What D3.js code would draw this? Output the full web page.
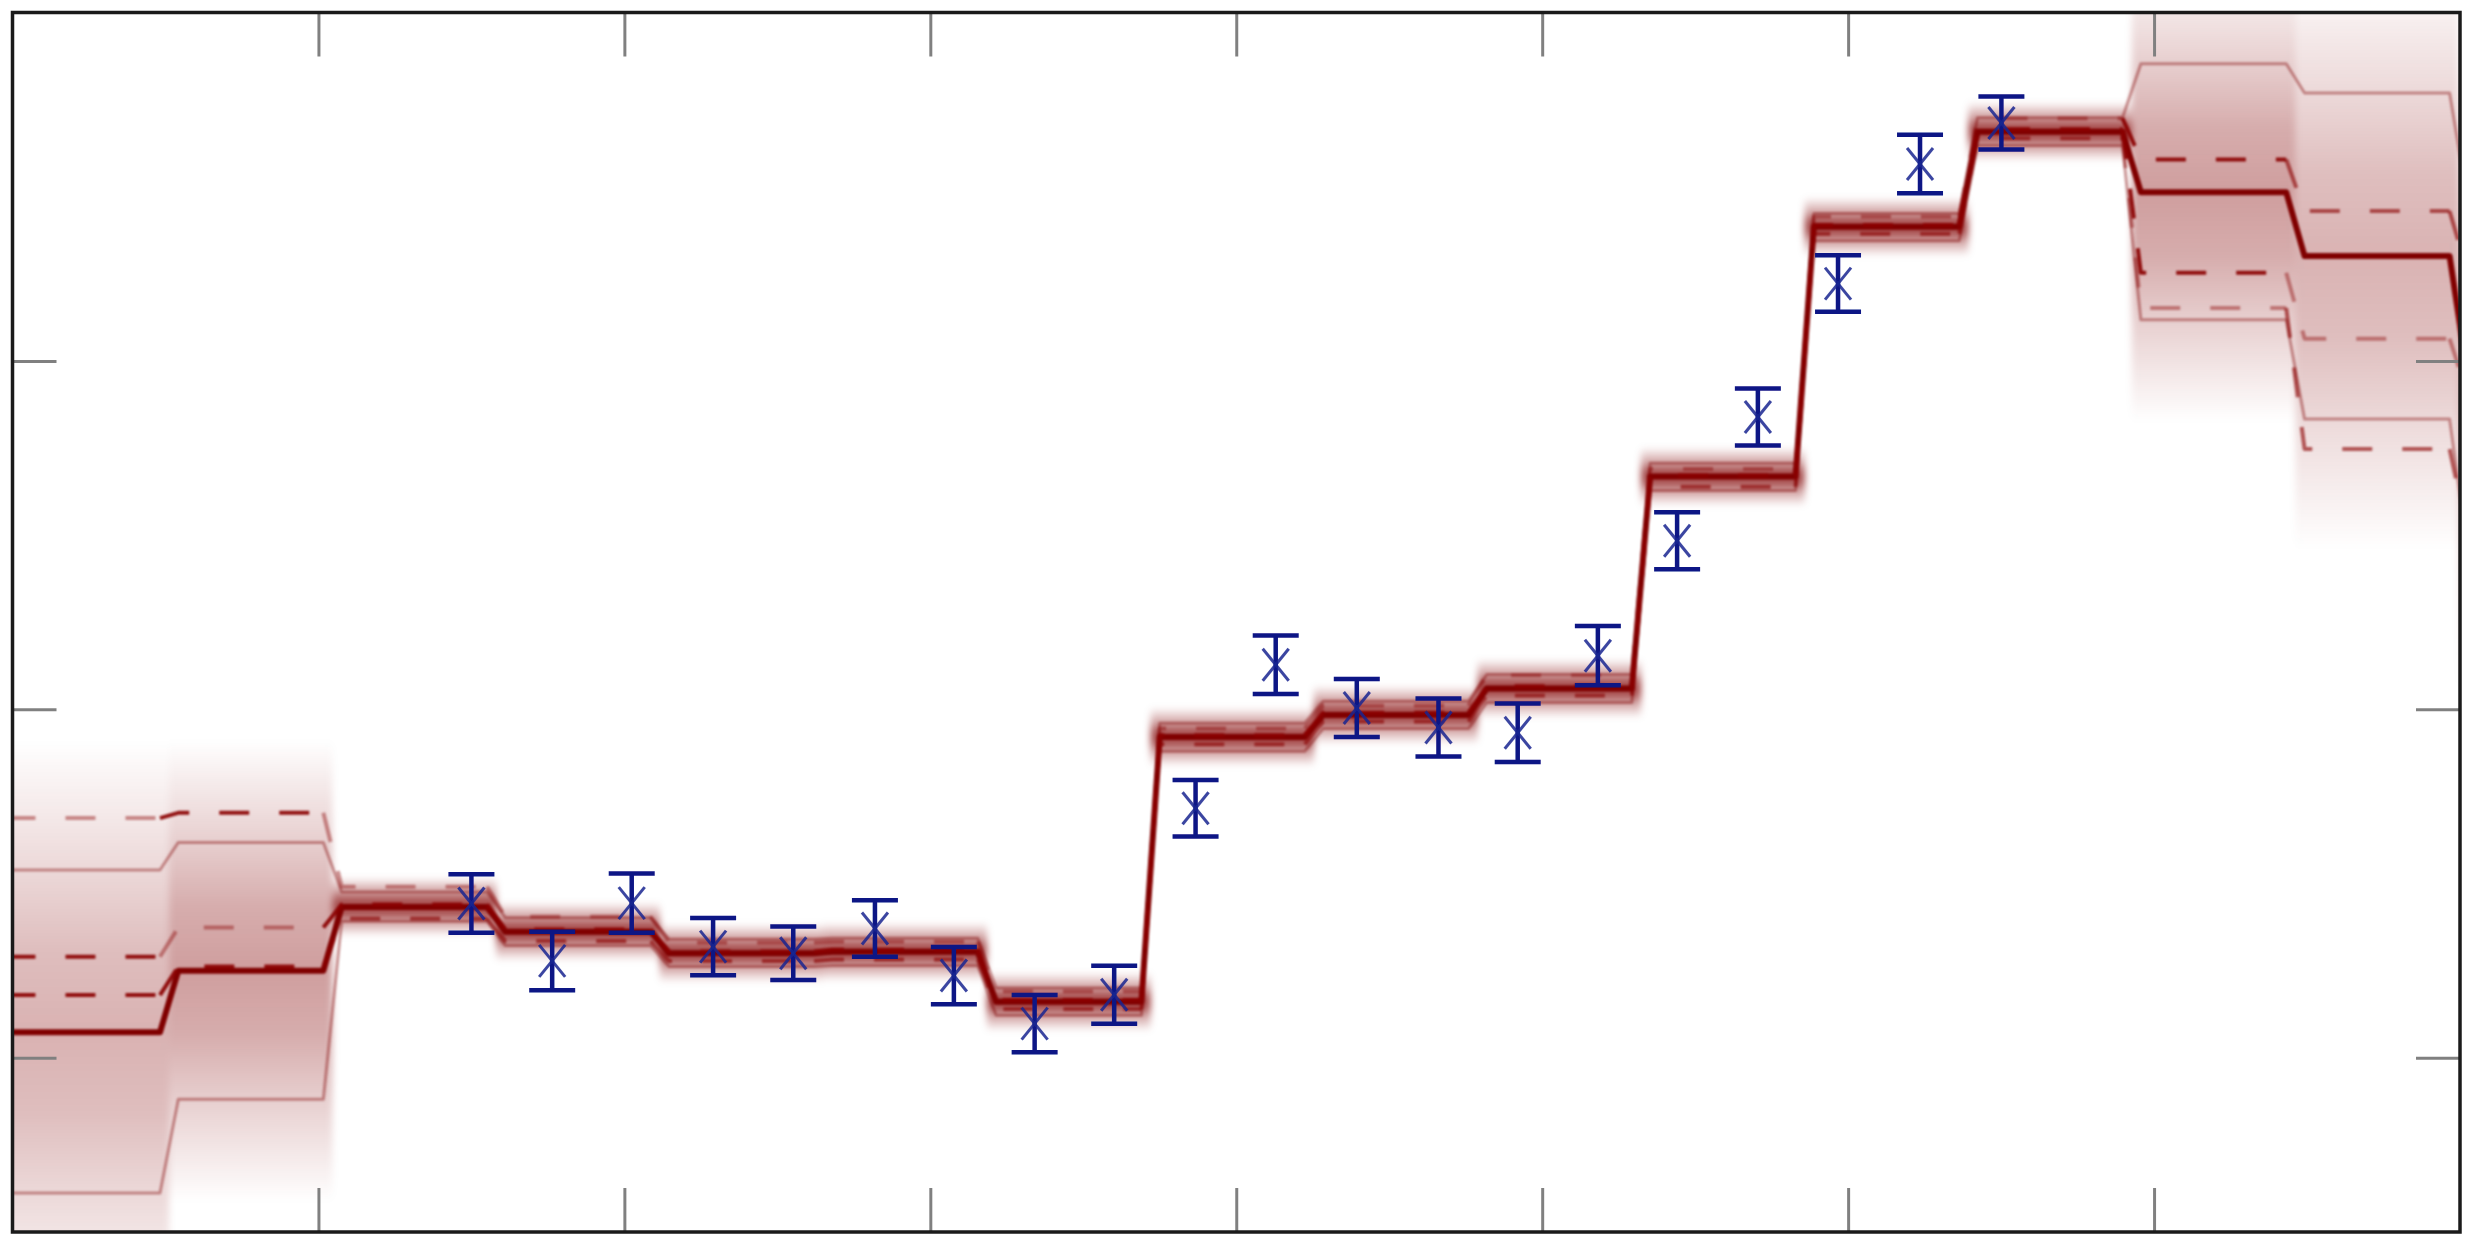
<!DOCTYPE html>
<html><head><meta charset="utf-8">
<script src="https://cdn.jsdelivr.net/npm/d3@7"></script>
<style>html,body{margin:0;padding:0;background:#fff;overflow:hidden}</style>
</head><body><svg id="chart" width="2470" height="1244"></svg>
<script>
// ---------------- data ----------------
const xTicks = [1, 2, 3, 4, 5, 6, 7];
const yTicks = [1, 2, 3];
const binEdges = [-0.023, 0.512, 1.046, 1.581, 2.116, 2.650, 3.185, 3.720, 4.254, 4.789, 5.323, 5.858, 6.393, 6.927, 7.462, 7.996, 8.531];
const centralLine = [1.073, 1.250, 1.433, 1.362, 1.300, 1.304, 1.161, 1.921, 1.984, 2.060, 2.668, 3.385, 3.658, 3.484, 3.301, 2.950];
const bandUpper   = [1.539, 1.618, 1.476, 1.402, 1.340, 1.343, 1.200, 1.960, 2.023, 2.100, 2.706, 3.423, 3.698, 3.853, 3.769, 3.450];
const bandLower   = [0.612, 0.881, 1.392, 1.322, 1.262, 1.265, 1.122, 1.880, 1.945, 2.020, 2.628, 3.345, 3.618, 3.118, 2.833, 2.450];
const dashTop     = [1.688, 1.703, 1.491, 1.405, 1.330, 1.333, 1.190, 1.945, 2.010, 2.098, 2.690, 3.414, 3.696, 3.578, 3.430, 3.250];
const dashMid     = [1.290, 1.374, 1.440, 1.368, 1.305, 1.310, 1.166, 1.926, 1.990, 2.066, 2.672, 3.390, 3.665, 3.253, 3.064, 2.900];
const dashBot     = [1.180, 1.262, 1.400, 1.335, 1.278, 1.282, 1.140, 1.900, 1.965, 2.040, 2.639, 3.365, 3.639, 3.152, 2.747, 2.500];
const dashTopTone = ["weak","strong","weak","weak","weak","weak","weak","weak","weak","weak","weak","weak","weak","strong","mid","mid"];
const dashMidTone = ["strong","weak","strong","strong","strong","strong","strong","strong","strong","strong","strong","strong","strong","strong","weak","weak"];
const dashBotTone = ["strong","strong","mid","mid","mid","mid","mid","mid","mid","mid","mid","mid","mid","weak","mid","mid"];

const pointX   = [1.500, 1.764, 2.024, 2.290, 2.552, 2.819, 3.077, 3.341, 3.601, 3.867, 4.129, 4.394, 4.661, 4.920, 5.182, 5.441, 5.705, 5.967, 6.235, 6.501];
const pointY   = [1.443, 1.278, 1.444, 1.319, 1.300, 1.371, 1.236, 1.098, 1.181, 1.716, 2.128, 2.004, 1.948, 1.933, 2.154, 2.484, 2.839, 3.222, 3.565, 3.683];
const pointErr = [0.084, 0.084, 0.085, 0.082, 0.077, 0.081, 0.082, 0.082, 0.083, 0.081, 0.084, 0.083, 0.083, 0.084, 0.085, 0.082, 0.082, 0.081, 0.084, 0.076];

// ---------------- layout / style ----------------
const L = 12.5, R = 2460, T = 12.5, B = 1232;
const x = d3.scaleLinear().domain([0, 8]).range([L, R]);
const y = d3.scaleLinear().domain([0.5, 4]).range([B, T]);
const toneAlpha = {strong: 0.92, mid: 0.62, weak: 0.42};
const red = "#800000", blue = "#0c1585";
const TW = 0.03; // transition half width (x units)

const svg = d3.select("#chart");
const defs = svg.append("defs");
defs.append("clipPath").attr("id", "clip").append("rect")
  .attr("x", L).attr("y", T).attr("width", R - L).attr("height", B - T);
defs.append("filter").attr("id", "blurS").attr("x", "-5%").attr("y", "-5%").attr("width", "110%").attr("height", "110%")
  .append("feGaussianBlur").attr("stdDeviation", 3.5);
defs.append("filter").attr("id", "blurL").attr("x", "-5%").attr("y", "-5%").attr("width", "110%").attr("height", "110%")
  .append("feGaussianBlur").attr("stdDeviation", 0.8);
defs.append("filter").attr("id", "blurP").attr("x", "-5%").attr("y", "-5%").attr("width", "110%").attr("height", "110%")
  .append("feGaussianBlur").attr("stdDeviation", 0.5);

const plot = svg.append("g").attr("clip-path", "url(#clip)");

// ---- shading per bin ----
const shade = plot.append("g").attr("filter", "url(#blurS)");
centralLine.forEach((c, i) => {
  const up = bandUpper[i], lo = bandLower[i];
  const top = c + Math.max(1.8 * (up - c), 0.085);
  const bot = c - Math.max(1.8 * (c - lo), 0.085);
  const half = (up - lo) / 2;
  const peak = Math.min(0.75, 0.14 / half);
  const yTop = y(top), yBot = y(bot), H = yBot - yTop;
  const off = v => (y(v) - yTop) / H;
  const gid = "g" + i;
  const g = defs.append("linearGradient").attr("id", gid).attr("x1", 0).attr("y1", 0).attr("x2", 0).attr("y2", 1);
  const stops = [
    [0, 0],
    [off(up), 0.5 * peak],
    [off((up + c) / 2), 0.85 * peak],
    [off(c), peak],
    [off((lo + c) / 2), 0.85 * peak],
    [off(lo), 0.5 * peak],
    [1, 0]
  ];
  stops.forEach(s => g.append("stop").attr("offset", s[0]).attr("stop-color", red).attr("stop-opacity", s[1]));
  shade.append("rect")
    .attr("x", x(binEdges[i])).attr("width", x(binEdges[i + 1]) - x(binEdges[i]))
    .attr("y", yTop).attr("height", H)
    .attr("fill", `url(#${gid})`);
});

// ---- lines ----
const lineGen = d3.line().x(d => x(d[0])).y(d => y(d[1]));
function fullPoints(vals) {
  const pts = [[binEdges[0], vals[0]]];
  vals.forEach((v, i) => {
    if (i > 0) pts.push([binEdges[i] + TW, v]);
    pts.push([binEdges[i + 1] - TW, v]);
  });
  return pts;
}
function segPoints(vals, i) {
  const pts = [];
  if (i === 0) pts.push([binEdges[0], vals[0]]);
  else { pts.push([binEdges[i] - TW, vals[i - 1]]); pts.push([binEdges[i] + TW, vals[i]]); }
  pts.push([binEdges[i + 1] - TW, vals[i]]);
  return pts;
}
const lines = plot.append("g").attr("filter", "url(#blurL)")
  .attr("fill", "none").attr("stroke-linejoin", "round");

[bandUpper, bandLower].forEach(s => {
  lines.append("path").attr("d", lineGen(fullPoints(s)))
    .attr("stroke", red).attr("stroke-opacity", 0.4).attr("stroke-width", 3);
});
lines.append("path").attr("d", lineGen(fullPoints(centralLine)))
  .attr("stroke", red).attr("stroke-width", 6);
[[dashTop, dashTopTone], [dashMid, dashMidTone], [dashBot, dashBotTone]].forEach(([vals, tones]) => {
  vals.forEach((v, i) => {
    lines.append("path").attr("d", lineGen(segPoints(vals, i)))
      .attr("stroke", "#8b0000").attr("stroke-opacity", toneAlpha[tones[i]])
      .attr("stroke-width", 4).attr("stroke-dasharray", "30,30");
  });
});

// ---- ticks (axes without labels) ----
function styleAxis(g) {
  g.select(".domain").remove();
  g.selectAll("text").remove();
  g.selectAll(".tick line").attr("stroke", "#808080").attr("stroke-width", 3);
}
svg.append("g").attr("transform", `translate(0,${T})`)
  .call(d3.axisTop(x).tickValues(xTicks).tickSize(-44).tickFormat("")).call(styleAxis);
svg.append("g").attr("transform", `translate(0,${B})`)
  .call(d3.axisBottom(x).tickValues(xTicks).tickSize(-44).tickFormat("")).call(styleAxis);
svg.append("g").attr("transform", `translate(${L},0)`)
  .call(d3.axisLeft(y).tickValues(yTicks).tickSize(-44).tickFormat("")).call(styleAxis);
svg.append("g").attr("transform", `translate(${R},0)`)
  .call(d3.axisRight(y).tickValues(yTicks).tickSize(-44).tickFormat("")).call(styleAxis);

// ---- data points with error bars ----
const pts = plot.append("g").attr("filter", "url(#blurP)");
const pdata = pointX.map((px, i) => ({x: px, y: pointY[i], e: pointErr[i]}));
const pg = pts.selectAll("g.pt").data(pdata).join("g").attr("class", "pt")
  .attr("transform", d => `translate(${x(d.x)},0)`);
pg.append("line").attr("x1", 0).attr("x2", 0)
  .attr("y1", d => y(d.y + d.e)).attr("y2", d => y(d.y - d.e))
  .attr("stroke", blue).attr("stroke-width", 4.5);
pg.append("line").attr("x1", -23).attr("x2", 23)
  .attr("y1", d => y(d.y + d.e)).attr("y2", d => y(d.y + d.e))
  .attr("stroke", blue).attr("stroke-width", 4.5);
pg.append("line").attr("x1", -23).attr("x2", 23)
  .attr("y1", d => y(d.y - d.e)).attr("y2", d => y(d.y - d.e))
  .attr("stroke", blue).attr("stroke-width", 4.5);
pg.append("line").attr("x1", -13).attr("x2", 13)
  .attr("y1", d => y(d.y) - 16).attr("y2", d => y(d.y) + 16)
  .attr("stroke", "#1a2690").attr("stroke-opacity", 0.85).attr("stroke-width", 3);
pg.append("line").attr("x1", 13).attr("x2", -13)
  .attr("y1", d => y(d.y) - 16).attr("y2", d => y(d.y) + 16)
  .attr("stroke", "#1a2690").attr("stroke-opacity", 0.85).attr("stroke-width", 3);

// ---- frame ----
svg.append("rect").attr("x", L).attr("y", T).attr("width", R - L).attr("height", B - T)
  .attr("fill", "none").attr("stroke", "#1a1a1a").attr("stroke-width", 3.5);
</script>
</body></html>
